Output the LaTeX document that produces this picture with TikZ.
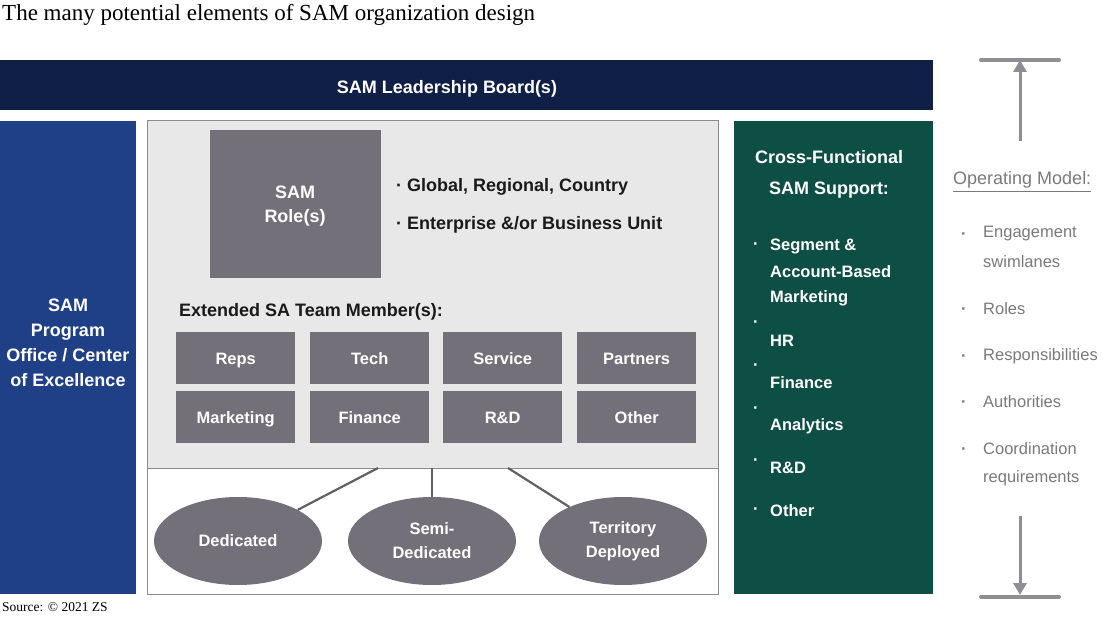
\documentclass[tikz,border=0pt]{standalone}
\usepackage{fontspec}
\setmainfont{Liberation Sans}
\newfontfamily\titlefont{Liberation Serif}
\usetikzlibrary{shapes.geometric,arrows.meta}
\definecolor{navy}{HTML}{0F1F45}
\definecolor{samblue}{HTML}{1F3F87}
\definecolor{samgreen}{HTML}{0E4F45}
\definecolor{boxgray}{HTML}{737079}
\definecolor{panelgray}{HTML}{E8E8E8}
\definecolor{bordergray}{HTML}{8C8C8C}
\definecolor{opgray}{HTML}{7A7A7A}
\definecolor{arrgray}{HTML}{8E8E94}
\definecolor{inktext}{HTML}{1A1A1A}
\begin{document}
\begin{tikzpicture}[x=1pt,y=-1pt,
  block/.style={anchor=north west, inner sep=0pt, outer sep=0pt},
  bigtxt/.style={font=\fontsize{18}{22}\selectfont\bfseries},
  whitetxt/.style={text=white, font=\fontsize{16.5}{20}\selectfont\bfseries, inner sep=0pt, anchor=west},
  teambox/.style={fill=boxgray, text=white, minimum width=119pt, minimum height=52pt, inner sep=0pt, text height=14pt, text depth=1pt, anchor=north west, font=\fontsize{16.5}{20}\selectfont\bfseries},
  oval/.style={ellipse, fill=boxgray, text=white, minimum width=168pt, minimum height=88pt, inner sep=0pt, align=center, font=\fontsize{16.5}{24}\selectfont\bfseries},
  link/.style={draw=boxgray!85!black, line width=2.2pt},
  optxt/.style={text=opgray, anchor=west, inner sep=0pt, font=\fontsize{16.5}{20}\selectfont},
  opdot/.style={text=opgray, anchor=west, inner sep=0pt, font=\fontsize{16.5}{20}\selectfont\bfseries},
  bar/.style={draw=arrgray, line width=4pt, line cap=round},
  vline/.style={draw=arrgray, line width=3pt, -{Triangle[length=12pt,width=13pt]}}
]
\useasboundingbox (0,0) rectangle (1103,617);
\fill[white] (0,0) rectangle (1103,617);

% title
\node[anchor=west, inner sep=0pt, font=\titlefont\fontsize{23}{27}\selectfont] (title) at (2,15) {The many potential elements of SAM organization design};

% leadership board
\node[block, fill=navy, minimum width=933pt, minimum height=50pt] (board) at (0,60) {};
\node[text=white, bigtxt, inner sep=0pt] (boardtxt) at (447,89) {SAM Leadership Board(s)};

% program office
\node[block, fill=samblue, minimum width=136pt, minimum height=473pt] (prog) at (0,121) {};
\node[text=white, align=center, inner sep=0pt, font=\fontsize{18}{25}\selectfont\bfseries] (progtxt) at (68,343) {SAM\\Program\\Office / Center\\of Excellence};

% central panel
\node[block, fill=panelgray, draw=bordergray, line width=1pt, minimum width=571pt, minimum height=347pt] (panel) at (147,121) {};
\node[block, fill=white, draw=bordergray, line width=1pt, minimum width=571pt, minimum height=126pt] (lower) at (147,468) {};

% SAM role
\node[block, fill=boxgray, minimum width=171pt, minimum height=148pt] (role) at (210,130) {};
\node[text=white, align=center, inner sep=0pt, font=\fontsize{18}{24}\selectfont\bfseries] (roletxt) at (295,206) {SAM\\Role(s)};

\node[anchor=west, inner sep=0pt, text=inktext, bigtxt] (b1) at (396,187) {\textperiodcentered\ Global, Regional, Country};
\node[anchor=west, inner sep=0pt, text=inktext, bigtxt] (b2) at (396,225) {\textperiodcentered\ Enterprise \&/or Business Unit};

\node[anchor=west, inner sep=0pt, text=inktext, bigtxt] (ext) at (179,312) {Extended SA Team Member(s):};

% team boxes
\node[teambox] (reps) at (176,332) {Reps};
\node[teambox] (tech) at (310,332) {Tech};
\node[teambox] (serv) at (443,332) {Service};
\node[teambox] (part) at (577,332) {Partners};
\node[teambox] (mkt) at (176,391) {Marketing};
\node[teambox] (fin) at (310,391) {Finance};
\node[teambox] (rnd) at (443,391) {R\&D};
\node[teambox] (oth) at (577,391) {Other};

% ellipses
\node[oval] (ded) at (238,541) {Dedicated};
\node[oval] (semi) at (432,541) {Semi-\\Dedicated};
\node[oval] (terr) at (623,541) {Territory\\Deployed};
\coordinate (c1) at (378,468);
\coordinate (c2) at (432,468);
\coordinate (c3) at (508,468);
\draw[link] (c1) -- (ded);
\draw[link] (c2) -- (semi);
\draw[link] (c3) -- (terr);

% cross-functional
\node[block, fill=samgreen, minimum width=199pt, minimum height=473pt] (green) at (734,121) {};
\node[text=white, bigtxt, inner sep=0pt] (cf1) at (829,157) {Cross-Functional};
\node[text=white, bigtxt, inner sep=0pt] (cf2) at (829,190) {SAM Support:};
\node[whitetxt] (d1) at (753,246) {\textperiodcentered};
\node[whitetxt] (s1) at (770,246) {Segment \&};
\node[whitetxt] (s2) at (770,272) {Account-Based};
\node[whitetxt] (s3) at (770,298) {Marketing};
\node[whitetxt] (d2) at (753,324) {\textperiodcentered};
\node[whitetxt] (s4) at (770,341) {HR};
\node[whitetxt] (d3) at (753,367) {\textperiodcentered};
\node[whitetxt] (s5) at (770,383) {Finance};
\node[whitetxt] (d4) at (753,410) {\textperiodcentered};
\node[whitetxt] (s6) at (770,426) {Analytics};
\node[whitetxt] (d5) at (753,462) {\textperiodcentered};
\node[whitetxt] (s7) at (770,468) {R\&D};
\node[whitetxt] (d6) at (753,511) {\textperiodcentered};
\node[whitetxt] (s8) at (770,511) {Other};

% operating model arrows
\coordinate (tl) at (981,60);
\coordinate (tr) at (1059,60);
\coordinate (ttop) at (1020,60);
\coordinate (tbot) at (1020,141);
\draw[bar] (tl) -- (tr);
\draw[vline] (tbot) -- (ttop);
\coordinate (bl) at (981,597);
\coordinate (br) at (1059,597);
\coordinate (btop) at (1020,516);
\coordinate (bbot) at (1020,595);
\draw[bar] (bl) -- (br);
\draw[vline] (btop) -- (bbot);

% operating model text
\node[optxt, font=\fontsize{18}{22}\selectfont] (op) at (953,180) {Operating Model:};
\draw[opgray, line width=1.2pt] ([yshift=-3pt]op.south west) -- ([yshift=-3pt]op.south east);
\foreach \yy/\nm in {236/o1, 311/o2, 358/o3, 404/o4, 451/o5} {
  \node[opdot] (\nm d) at (961,\yy) {\textperiodcentered};
}
\node[optxt] (o1) at (983,234) {Engagement};
\node[optxt] (o1b) at (983,262) {swimlanes};
\node[optxt] (o2) at (983,309) {Roles};
\node[optxt] (o3) at (983,356) {Responsibilities};
\node[optxt] (o4) at (983,402) {Authorities};
\node[optxt] (o5) at (983,449) {Coordination};
\node[optxt] (o5b) at (983,478) {requirements};

% source
\node[anchor=west, inner sep=0pt, font=\titlefont\fontsize{13.5}{16}\selectfont] (src) at (2,607) {Source: \textcopyright\ 2021 ZS};
\end{tikzpicture}
\end{document}
